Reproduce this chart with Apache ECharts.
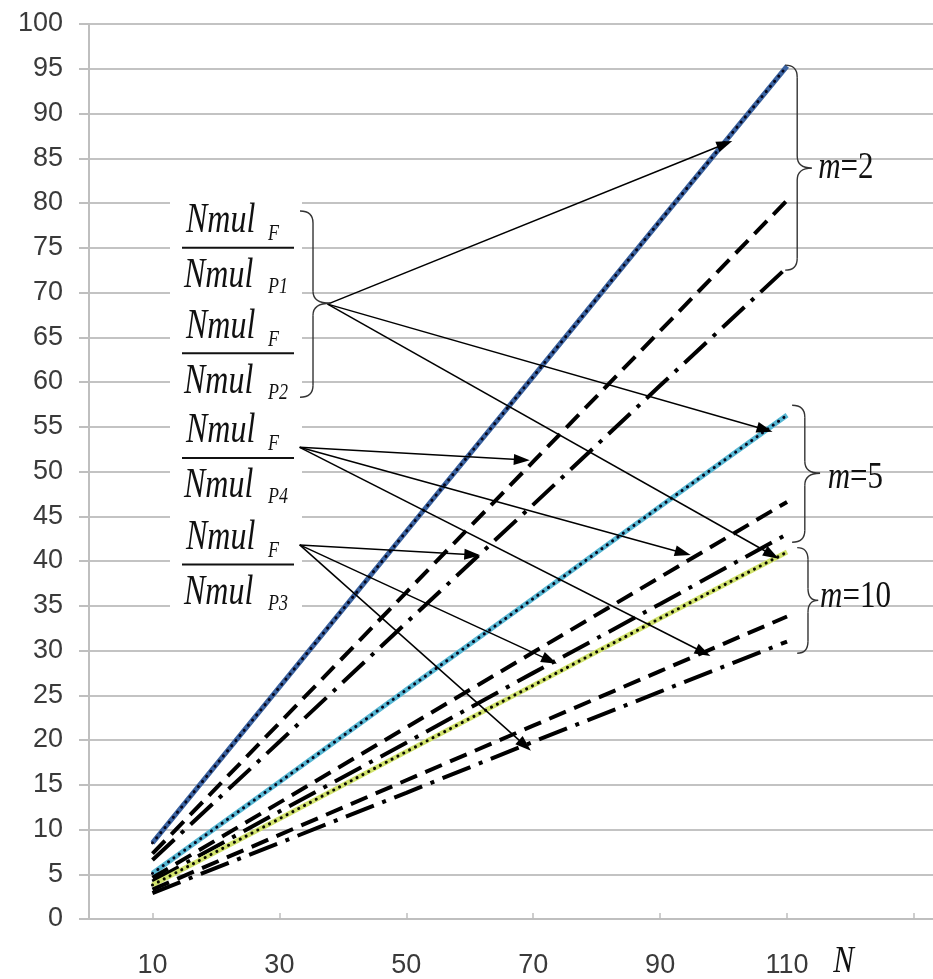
<!DOCTYPE html>
<html><head><meta charset="utf-8">
<script src="https://cdn.jsdelivr.net/npm/echarts@6/dist/echarts.min.js"></script>
<style>html,body{margin:0;padding:0;background:#fff}#c{width:933px;height:979px}</style>
</head><body><div id="c"></div>
<script>
// ---- data ----
const categories = [10, 30, 50, 70, 90, 110];
const xTickValues = [10, 30, 50, 70, 90, 110, 130];
const xLabelValues = [10, 30, 50, 70, 90, 110];
// m = 2
const m2_P1 = [8.5, 25.9, 43.3, 60.6, 78.0, 95.3];
const m2_P2 = [8.5, 25.9, 43.3, 60.6, 78.0, 95.3];
const m2_P4 = [7.3, 21.9, 36.5, 51.1, 65.7, 80.3];
const m2_P3 = [6.6, 19.8, 33.1, 46.3, 59.6, 72.8];
// m = 5
const m5_P1 = [5.1, 15.3, 25.6, 35.8, 46.1, 56.3];
const m5_P2 = [5.1, 15.3, 25.6, 35.8, 46.1, 56.3];
const m5_P4 = [4.6, 13.0, 21.4, 29.8, 38.2, 46.6];
const m5_P3 = [4.2, 12.0, 19.7, 27.5, 35.2, 43.0];
// m = 10
const m10_P1 = [3.8, 11.2, 18.7, 26.1, 33.6, 41.0];
const m10_P2 = [3.8, 11.2, 18.7, 26.1, 33.6, 41.0];
const m10_P4 = [3.3, 9.4, 15.5, 21.6, 27.7, 33.8];
const m10_P3 = [2.9, 8.5, 14.1, 19.8, 25.4, 31.0];

// ---- annotation geometry (data coordinates) ----
const arrowLines = [
  [[37.6, 68.7], [100.2, 86.6]],
  [[37.6, 68.7], [106.5, 54.7]],
  [[37.6, 68.7], [107.6, 40.7]],
  [[33.2, 52.7], [68.2, 51.3]],
  [[33.2, 52.7], [93.6, 40.9]],
  [[33.2, 52.7], [96.8, 29.8]],
  [[33.2, 41.8], [60.4, 40.7]],
  [[33.2, 41.8], [72.6, 28.9]],
  [[33.2, 41.8], [68.7, 19.4]]
];
// braces: [xEnds, xSpine, xTip, yTop, yBottom, yTip]
const braces = [
  [33.25, 35.3, 38.0, 79.1, 58.3, 68.8],
  [109.7, 111.6, 113.9, 95.4, 72.5, 83.9],
  [110.8, 112.8, 115.2, 57.4, 42.1, 49.8],
  [111.6, 113.3, 114.9, 41.5, 29.7, 35.6]
];
const mLabels = [
  { x: 114.9, y: 83.9, m: 'm', rest: '=2' },
  { x: 116.4, y: 49.3, m: 'm', rest: '=5' },
  { x: 115.2, y: 36.0, m: 'm', rest: '=10' }
];
const fractions = [
  { y: 75.0, sub: 'P1' },
  { y: 63.2, sub: 'P2' },
  { y: 51.5, sub: 'P4' },
  { y: 39.6, sub: 'P3' }
];

const SERIF = '"Liberation Serif", "Times New Roman", serif';
const chart = echarts.init(document.getElementById('c'), null, { renderer: 'canvas' });

function line(name, vals, color, width, dash, z, cap) {
  return {
    type: 'line', name: name, z: z, silent: true,
    data: categories.map((x, i) => [x, vals[i]]),
    symbol: 'none', showSymbol: false,
    lineStyle: { color: color, width: width, type: dash, cap: cap || 'butt' },
    emphasis: { disabled: true }
  };
}
const DOT = [0.1, 6.5];
const SHORT = [18, 9];
const LONGDOT = [30, 9, 4, 9];

const series = [
  line('m2 P1', m2_P1, '#3a62a0', 5, 'solid', 3),
  line('m2 P2', m2_P2, '#05051a', 3, DOT, 4, 'round'),
  line('m2 P4', m2_P4, '#000', 4, SHORT, 3),
  line('m2 P3', m2_P3, '#000', 4, LONGDOT, 3),
  line('m5 P1', m5_P1, '#58b8d4', 5, 'solid', 3),
  line('m5 P2', m5_P2, '#05051a', 3, DOT, 4, 'round'),
  line('m5 P4', m5_P4, '#000', 4, SHORT, 3),
  line('m5 P3', m5_P3, '#000', 4, LONGDOT, 3),
  line('m10 P1', m10_P1, '#d2e36e', 5, 'solid', 3),
  line('m10 P2', m10_P2, '#0a0a00', 3, DOT, 4, 'round'),
  line('m10 P4', m10_P4, '#000', 4, SHORT, 3),
  line('m10 P3', m10_P3, '#000', 4, LONGDOT, 3)
];
series[0].markLine = {
  silent: true, animation: false,
  symbol: ['none', 'triangle'], symbolSize: [11, 16],
  label: { show: false },
  lineStyle: { color: '#000', width: 1.5, type: 'solid' },
  emphasis: { disabled: true },
  data: arrowLines.map(a => [{ coord: a[0] }, { coord: a[1] }])
};

chart.setOption({
  animation: false,
  backgroundColor: '#fff',
  grid: { left: 89, right: 0, top: 24, bottom: 60, containLabel: false },
  xAxis: {
    type: 'value', min: 0, max: 133,
    axisLine: { show: true, lineStyle: { color: '#bfbfbf', width: 2 } },
    axisTick: { show: true, inside: true, length: 6, customValues: xTickValues, lineStyle: { color: '#bfbfbf', width: 1.5 } },
    axisLabel: { customValues: xLabelValues, margin: 33, fontSize: 27, color: '#3a3a3a', fontFamily: 'Liberation Sans' },
    splitLine: { show: false }
  },
  yAxis: {
    type: 'value', min: 0, max: 100, interval: 5,
    axisLine: { show: true, lineStyle: { color: '#bfbfbf', width: 2 } },
    axisTick: { show: true, inside: false, length: 10, lineStyle: { color: '#bfbfbf', width: 2 } },
    axisLabel: { margin: 26, fontSize: 27, color: '#3a3a3a', fontFamily: 'Liberation Sans' },
    splitLine: { show: true, lineStyle: { color: '#c3c3c3', width: 2 } }
  },
  series: series
});

const P = (x, y) => chart.convertToPixel({ gridIndex: 0 }, [x, y]);
const g = [];
// white box behind fraction labels
{
  const a = P(0, 80.7), b = P(0, 34.3);
  g.push({ type: 'rect', z: 1, silent: true, shape: { x: 170, y: a[1], width: 132, height: b[1] - a[1] }, style: { fill: '#fff' } });
}
// braces
const braceStyle = { stroke: '#333', lineWidth: 1.4, fill: null };
braces.forEach(br => {
  const x0 = P(br[0], 0)[0], x1 = P(br[1], 0)[0], x2 = P(br[2], 0)[0];
  const y1 = P(0, br[3])[1], y2 = P(0, br[4])[1], ym = P(0, br[5])[1];
  const r = Math.min(12, (ym - y1) / 3);
  const add = (el) => g.push(Object.assign({ z: 6, silent: true, style: braceStyle }, el));
  add({ type: 'bezierCurve', shape: { x1: x0, y1: y1, cpx1: x1, cpy1: y1, x2: x1, y2: y1 + r } });
  add({ type: 'line', shape: { x1: x1, y1: y1 + r, x2: x1, y2: ym - r } });
  add({ type: 'bezierCurve', shape: { x1: x1, y1: ym - r, cpx1: x1, cpy1: ym, x2: x2, y2: ym } });
  add({ type: 'bezierCurve', shape: { x1: x2, y1: ym, cpx1: x1, cpy1: ym, x2: x1, y2: ym + r } });
  add({ type: 'line', shape: { x1: x1, y1: ym + r, x2: x1, y2: y2 - r } });
  add({ type: 'bezierCurve', shape: { x1: x1, y1: y2 - r, cpx1: x1, cpy1: y2, x2: x0, y2: y2 } });
});
// m labels
mLabels.forEach(l => {
  const p = P(l.x, l.y);
  g.push({ type: 'text', z: 6, silent: true, x: p[0], y: p[1], scaleY: 1.2,
    style: { text: '{i|' + l.m + '}{n|' + l.rest + '}', verticalAlign: 'middle', align: 'left',
      rich: { i: { fontFamily: SERIF, fontStyle: 'italic', fontSize: 31, fill: '#111' },
              n: { fontFamily: SERIF, fontSize: 31, fill: '#111' } } } });
});
// fraction labels
fractions.forEach(f => {
  const yb = P(0, f.y)[1];
  const serifI = { fontFamily: SERIF, fontStyle: 'italic', fill: '#111' };
  g.push({ type: 'line', z: 6, silent: true, shape: { x1: 182, y1: yb, x2: 294, y2: yb }, style: { stroke: '#111', lineWidth: 2 } });
  g.push({ type: 'text', z: 6, silent: true, x: 186, y: yb - 27, scaleY: 1.35, style: Object.assign({ text: 'Nmul', fontSize: 32, verticalAlign: 'middle' }, serifI) });
  g.push({ type: 'text', z: 6, silent: true, x: 268, y: yb - 14, scaleY: 1.3, style: Object.assign({ text: 'F', fontSize: 18, verticalAlign: 'middle' }, serifI) });
  g.push({ type: 'text', z: 6, silent: true, x: 184, y: yb + 28, scaleY: 1.35, style: Object.assign({ text: 'Nmul', fontSize: 32, verticalAlign: 'middle' }, serifI) });
  g.push({ type: 'text', z: 6, silent: true, x: 268, y: yb + 39, scaleY: 1.3, style: Object.assign({ text: f.sub, fontSize: 18, verticalAlign: 'middle' }, serifI) });
});
// axis name
{
  const p = P(117.3, -4.8);
  g.push({ type: 'text', z: 6, silent: true, x: p[0], y: p[1], scaleY: 1.2,
    style: { text: 'N', fontFamily: SERIF, fontStyle: 'italic', fontSize: 31, fill: '#111', verticalAlign: 'middle' } });
}
chart.setOption({ graphic: g });
</script>
</body></html>
